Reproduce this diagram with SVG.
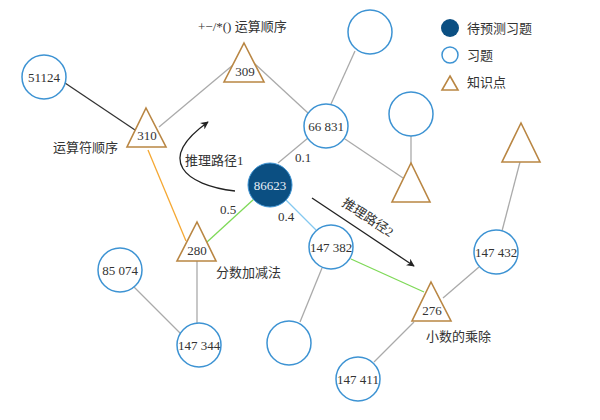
<svg xmlns="http://www.w3.org/2000/svg" width="600" height="420" viewBox="0 0 600 420">
<style>
.q{fill:#fff;stroke:#3d93d3;stroke-width:1.5}
.k{fill:#fff;stroke:#b98643;stroke-width:1.6}
.t{font-family:"Liberation Serif","Noto Sans CJK SC",serif;font-size:13px;fill:#333}
.c{font-family:"Liberation Serif","Noto Sans CJK SC",serif;font-size:13px;fill:#333;text-anchor:middle;dominant-baseline:central}
.e{stroke:#aaa;stroke-width:1.3;fill:none}
</style>
<defs>
<marker id="ah" viewBox="0 0 10 10" refX="9" refY="5" markerWidth="8" markerHeight="8" markerUnits="userSpaceOnUse" orient="auto">
<path d="M0,0 L10,5 L0,10 L3,5 Z" fill="#222"/>
</marker>
</defs>
<rect width="600" height="420" fill="#fff"/>
<g id="connectors">
<line x1="65" y1="83" x2="138" y2="132" stroke="#333" stroke-width="1.3"/>
<line class="e" x1="159" y1="127" x2="233" y2="65"/>
<line class="e" x1="255" y1="64" x2="308" y2="113"/>
<line x1="148" y1="150" x2="186" y2="241" stroke="#f5a833" stroke-width="1.3"/>
<line class="e" x1="331" y1="104" x2="355" y2="51"/>
<line class="e" x1="345" y1="139" x2="403" y2="178"/>
<line class="e" x1="411" y1="136" x2="411" y2="163"/>
<line class="e" x1="278" y1="163" x2="308" y2="138"/>
<line x1="254" y1="199" x2="207" y2="242" stroke="#7ed957" stroke-width="1.3"/>
<line x1="286" y1="200" x2="316" y2="230" stroke="#84c8f0" stroke-width="1.3"/>
<line x1="351" y1="259" x2="424" y2="292" stroke="#7ed957" stroke-width="1.3"/>
<line class="e" x1="322" y1="268" x2="300" y2="322"/>
<line class="e" x1="443" y1="298" x2="479" y2="267"/>
<line class="e" x1="414" y1="322" x2="374" y2="362"/>
<line class="e" x1="520" y1="162" x2="502" y2="231"/>
<line class="e" x1="197" y1="261" x2="197" y2="323"/>
<line class="e" x1="134" y1="287" x2="180" y2="333"/>
<path d="M235 191 C185 185 155 160 208 122" fill="none" stroke="#222" stroke-width="1.3" marker-end="url(#ah)"/>
<line x1="312" y1="198" x2="414" y2="266" stroke="#222" stroke-width="1.3" marker-end="url(#ah)"/>
<text class="t" x="295" y="162">0.1</text>
<text class="t" x="220" y="214">0.5</text>
<text class="t" x="278" y="221">0.4</text>
<text class="t" x="185" y="165">推理路径1</text>
<text class="t" transform="translate(341,205) rotate(33.5)">推理路径2</text>
</g>
<g id="n51124"><circle class="q" cx="44" cy="77" r="22"/><text class="c" x="44" y="77">51124</text></g>
<g id="k309"><path class="k" d="M244 43 L264 82 L224 82 Z"/><text class="c" x="245" y="71">309</text><text class="t" x="198" y="31">+−/*() 运算顺序</text></g>
<g id="k310"><path class="k" d="M146 108 L166 147 L127 147 Z"/><text class="c" x="147" y="135">310</text><text class="t" x="53" y="152">运算符顺序</text></g>
<g id="n66831"><circle class="q" cx="326" cy="126" r="22"/><text class="c" x="326" y="126">66 831</text></g>
<g id="nTop"><circle class="q" cx="370" cy="32" r="22"/></g>
<g id="nMid"><circle class="q" cx="411" cy="114" r="22"/></g>
<g id="kMid"><path class="k" d="M411 163 L430 202 L392 202 Z"/></g>
<g id="kRight"><path class="k" d="M521 123 L540 162 L502 162 Z"/></g>
<g id="n86623"><circle cx="270" cy="185" r="22" fill="#0b4f82" stroke="#3d93d3" stroke-width="1"/><text class="c" x="270" y="185" style="fill:#e8eef5">86623</text></g>
<g id="k280"><path class="k" d="M197 222 L216 261 L177 261 Z"/><text class="c" x="197" y="250">280</text><text class="t" x="216" y="277">分数加减法</text></g>
<g id="n147382"><circle class="q" cx="331" cy="247" r="22"/><text class="c" x="331" y="247">147 382</text></g>
<g id="n147432"><circle class="q" cx="496" cy="252" r="22"/><text class="c" x="496" y="252">147 432</text></g>
<g id="k276"><path class="k" d="M431 282 L451 321 L412 321 Z"/><text class="c" x="432" y="310">276</text><text class="t" x="426" y="341">小数的乘除</text></g>
<g id="n147411"><circle class="q" cx="358" cy="379" r="22"/><text class="c" x="358" y="379">147 411</text></g>
<g id="nBottom"><circle class="q" cx="289" cy="343" r="22"/></g>
<g id="n147344"><circle class="q" cx="199" cy="345" r="22"/><text class="c" x="199" y="345">147 344</text></g>
<g id="n85074"><circle class="q" cx="120" cy="270" r="22"/><text class="c" x="120" y="270">85 074</text></g>
<g id="legend">
<circle cx="450" cy="28" r="9" fill="#0b4f82"/>
<text class="t" x="467" y="33">待预测习题</text>
<circle class="q" cx="450" cy="55" r="8"/>
<text class="t" x="467" y="60">习题</text>
<path class="k" d="M450 76 L458 90 L442 90 Z"/>
<text class="t" x="467" y="87">知识点</text>
</g>
</svg>
